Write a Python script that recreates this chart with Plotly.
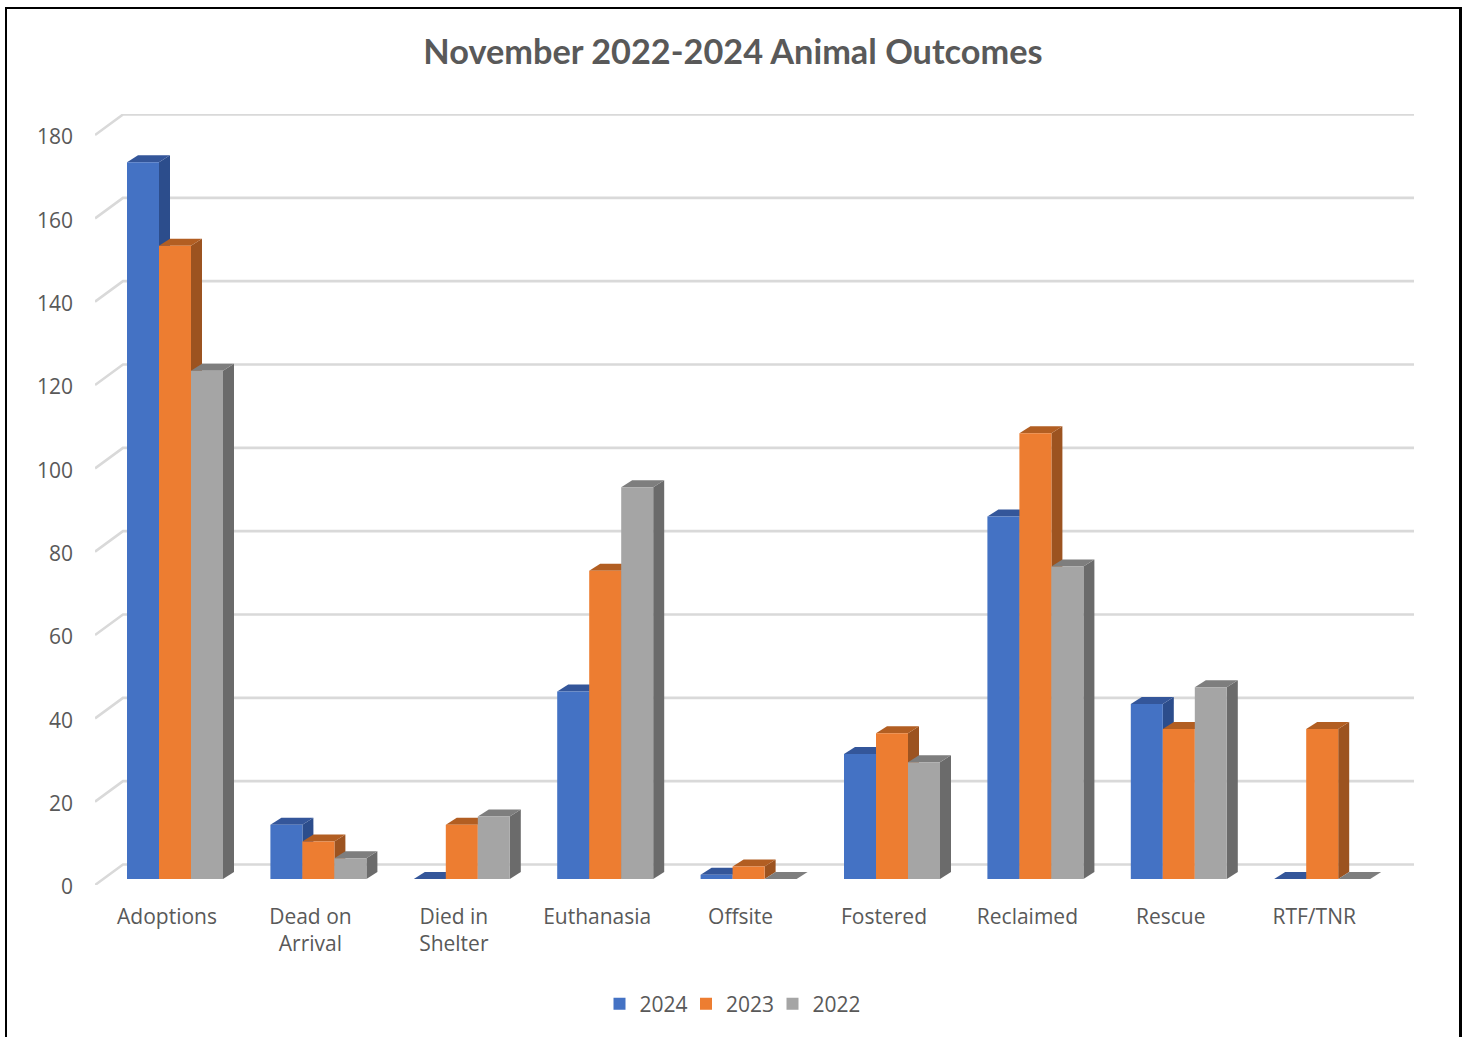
import plotly.graph_objects as go

categories = ["Adoptions", "Dead on<br>Arrival", "Died in<br>Shelter", "Euthanasia", "Offsite",
              "Fostered", "Reclaimed", "Rescue", "RTF/TNR"]
series_names = ["2024", "2023", "2022"]
values_2024 = [172, 13, 0, 45, 1, 30, 87, 42, 0]
values_2023 = [152, 9, 13, 74, 3, 35, 107, 36, 36]
values_2022 = [122, 5, 15, 94, 0, 28, 75, 46, 0]
y_ticks = [0, 20, 40, 60, 80, 100, 120, 140, 160, 180]

front_colors = ["#4472C4", "#ED7D31", "#A5A5A5"]
side_colors = ["#2C4D8C", "#9C5320", "#6B6B6B"]
top_colors = ["#34569A", "#B25E22", "#7E7E7E"]

W, H = 1468, 1037
L, R, T, B = 95, 1414, 114, 885
PX_X = 143.4          # pixels per category
PX_Y = 750 / 180      # pixels per value unit
X_LEFT = (L - 167) / PX_X
X_RIGHT = (R - 167) / PX_X
Y_TOP = (B - T) / PX_Y
BAR_W = 32 / PX_X
BAR_START = -40 / PX_X
DEPTH_X = 11 / PX_X
DEPTH_Y = 7 / PX_Y
FLOOR = 6 / PX_Y
WALL_X = 28 / PX_X
WALL_Y = 20.5 / PX_Y

positions = list(range(len(categories)))
series = [values_2024, values_2023, values_2022]

fig = go.Figure()

# back wall gridlines and their diagonal lead-ins
for t in y_ticks:
    fig.add_trace(go.Scatter(
        x=[X_LEFT, X_LEFT + WALL_X, X_RIGHT], y=[t, t + WALL_Y, t + WALL_Y],
        mode="lines", line=dict(color="#D9D9D9", width=2.6),
        showlegend=False, hoverinfo="skip", cliponaxis=False))

# depth faces of the bars, behind the front faces
for p in positions:
    for s, vals in enumerate(series):
        v = vals[p]
        x0 = p + BAR_START + s * BAR_W
        x1 = x0 + BAR_W
        yb = FLOOR
        yt = FLOOR + v
        if v > 0:
            fig.add_trace(go.Scatter(
                x=[x1, x1 + DEPTH_X, x1 + DEPTH_X, x1, x1],
                y=[yb, yb + DEPTH_Y, yt + DEPTH_Y, yt, yb],
                mode="lines", fill="toself", fillcolor=side_colors[s],
                line=dict(width=0), showlegend=False, hoverinfo="skip"))
        fig.add_trace(go.Scatter(
            x=[x0, x0 + DEPTH_X, x1 + DEPTH_X, x1, x0],
            y=[yt, yt + DEPTH_Y, yt + DEPTH_Y, yt, yt],
            mode="lines", fill="toself", fillcolor=top_colors[s],
            line=dict(width=0), showlegend=False, hoverinfo="skip"))

# front faces, on an overlaid subplot so they cover the depth faces
for s, vals in enumerate(series):
    fig.add_trace(go.Bar(
        x=positions, y=vals, base=FLOOR, width=BAR_W,
        offset=BAR_START + s * BAR_W, name=series_names[s],
        marker=dict(color=front_colors[s], line=dict(width=0)),
        xaxis="x2", yaxis="y2"))


def px(x):
    return (x - L) / (R - L)


def py(y):
    return (B - y) / (B - T)


line_black = lambda w: dict(color="#000000", width=w)
shapes = [
    dict(type="line", xref="paper", yref="paper", x0=px(6), x1=px(6), y0=py(8), y1=py(1040), line=line_black(2)),
    dict(type="line", xref="paper", yref="paper", x0=px(1460.5), x1=px(1460.5), y0=py(8), y1=py(1040), line=line_black(3)),
    dict(type="line", xref="paper", yref="paper", x0=px(5), x1=px(1462), y0=py(8), y1=py(8), line=line_black(2)),
]

label_font = dict(family="Open Sans", size=21, color="#595959")

fig.update_layout(
    width=W, height=H, autosize=False,
    margin=dict(l=L, r=W - R, t=T, b=H - B, pad=0),
    paper_bgcolor="white", plot_bgcolor="white",
    barmode="overlay", shapes=shapes,
    title=dict(text="<b>November 2022-2024 Animal Outcomes</b>",
               x=733 / W, xanchor="center", y=1 - 51.5 / H, yanchor="middle",
               font=dict(family="Lato", size=34.3, color="#595959")),
    xaxis=dict(range=[X_LEFT, X_RIGHT], tickmode="array", tickvals=positions, ticktext=categories,
               showgrid=False, zeroline=False, showline=False, ticks="",
               ticklabelstandoff=17, tickfont=label_font),
    yaxis=dict(range=[0, Y_TOP], tickmode="array", tickvals=y_ticks,
               showgrid=False, zeroline=False, showline=False, ticks="",
               ticklabelstandoff=21, ticklabelshift=2, tickfont=label_font),
    xaxis2=dict(range=[X_LEFT, X_RIGHT], overlaying="x", visible=False),
    yaxis2=dict(range=[0, Y_TOP], overlaying="y", visible=False),
    legend=dict(orientation="h", xanchor="center", yanchor="middle",
                x=px(729.5), y=py(1004), font=label_font,
                entrywidth=41.5, entrywidthmode="pixels", traceorder="normal"),
)

fig.write_html("out.html", config=dict(displayModeBar=False),
               post_script="document.body.style.margin='0';document.body.style.overflow='hidden';")
